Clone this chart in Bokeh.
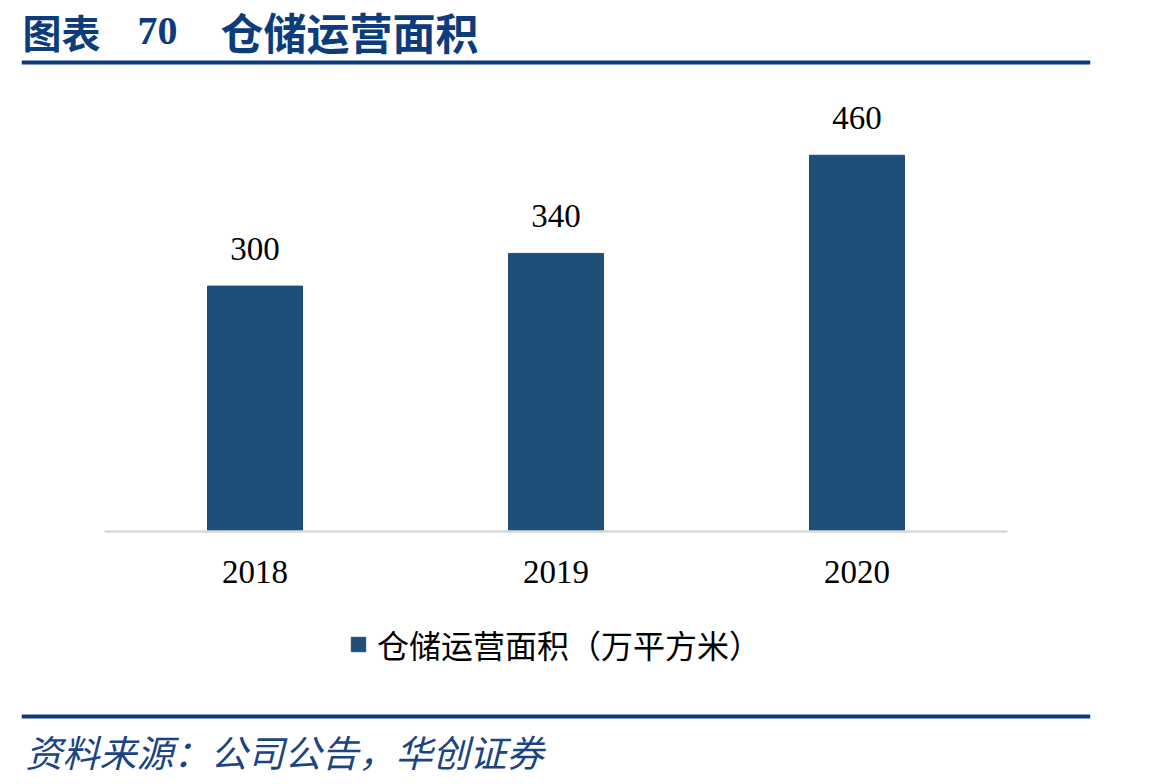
from bokeh.plotting import figure
from bokeh.models import Range1d, FactorRange, BoxAnnotation, Label, Legend, LegendItem, ColumnDataSource
from bokeh.core.properties import value
from bokeh.embed import file_html
from bokeh.resources import INLINE

# ---- data ----
years = ["2018", "2019", "2020"]
area = [300, 340, 460]
series_name = "仓储运营面积（万平方米）"
title_cn_1 = "图表"
title_num = "70"
title_cn_2 = "仓储运营面积"
source_text = "资料来源：公司公告，华创证券"

# ---- layout constants (canvas pixels) ----
W, H = 1149, 784
FL, FR = 21, 1090          # frame = whole drawing area (rules span it)
AX_L, AX_R = 104, 1007     # category axis extent
BASE_Y = 531               # canvas y of value 0
PX_PER_UNIT = 0.818
BAR_COLOR = "#1F4E79"
NAVY = "#0D3C7C"
SERIF = "Liberation Serif"
CJK = "Noto Sans CJK SC"

n = len(years)
cat_px = (AX_R - AX_L) / n
side_pad_units = ((FR - FL) / cat_px - n) / 2


def sx(cx):
    return cx - FL


def sy(cy):
    return H - cy


src = ColumnDataSource(dict(year=years, area=area, label=[str(v) for v in area],
                            zero=[0] * n))

p = figure(width=W, height=H,
           x_range=FactorRange(*years, range_padding=side_pad_units, range_padding_units="absolute"),
           y_range=Range1d(-(H - BASE_Y) / PX_PER_UNIT, BASE_Y / PX_PER_UNIT),
           output_backend="svg", toolbar_location=None,
           x_axis_location=None, y_axis_location=None,
           min_border_left=FL, min_border_right=W - FR, min_border_top=0, min_border_bottom=0)
p.outline_line_color = None
p.grid.visible = False
p.background_fill_color = "white"
p.border_fill_color = "white"

# bars
bars = p.vbar(x="year", top="area", width=95 / 301, source=src, color=BAR_COLOR)
# category baseline (from first to last category edge)
p.segment(x0=[0], x1=[n], y0=[0], y1=[0], line_color="#D9D9D9", line_width=2.5)
# value labels
p.text(x="year", y="area", text="label", source=src, text_align="center",
       text_baseline="middle", y_offset=-37, text_font=value(SERIF),
       text_font_size="33px", text_color="black")
# category labels
p.text(x="year", y="zero", text="year", source=src, text_align="center",
       text_baseline="middle", y_offset=40, text_font=value(SERIF),
       text_font_size="33px", text_color="black")

legend = Legend(items=[LegendItem(label=series_name, renderers=[bars])],
                location=(sx(349), sy(667)), orientation="horizontal",
                glyph_width=18, glyph_height=18,
                label_standoff=10, padding=0, margin=0, spacing=0,
                border_line_color=None, background_fill_alpha=0,
                label_text_font=CJK, label_text_font_size="32px",
                label_text_color="black")
p.add_layout(legend, "center")

# title
p.add_layout(Label(x=sx(22), y=sy(30), x_units="screen", y_units="screen", text=title_cn_1,
                   text_baseline="middle", text_font=CJK, text_font_size="39px",
                   text_font_style="bold", text_color=NAVY))
p.add_layout(Label(x=sx(137), y=sy(30), x_units="screen", y_units="screen", text=title_num,
                   text_baseline="middle", text_font=SERIF, text_font_size="40px",
                   text_font_style="bold", text_color=NAVY))
p.add_layout(Label(x=sx(220), y=sy(30), x_units="screen", y_units="screen", text=title_cn_2,
                   text_baseline="middle", text_font=CJK, text_font_size="43px",
                   text_font_style="bold", text_color=NAVY))

# rules
for cy in (62, 716):
    p.add_layout(BoxAnnotation(left=sx(FL), right=sx(FR), top=sy(cy - 2), bottom=sy(cy + 2),
                               left_units="screen", right_units="screen",
                               top_units="screen", bottom_units="screen",
                               fill_color=NAVY, fill_alpha=1, line_color=None))

# source
p.add_layout(Label(x=sx(25), y=sy(750), x_units="screen", y_units="screen", text=source_text,
                   text_baseline="middle", text_font=CJK, text_font_size="37px",
                   text_font_style="italic", text_color="#1A4482"))

open("out.html", "w").write(file_html(p, INLINE))
